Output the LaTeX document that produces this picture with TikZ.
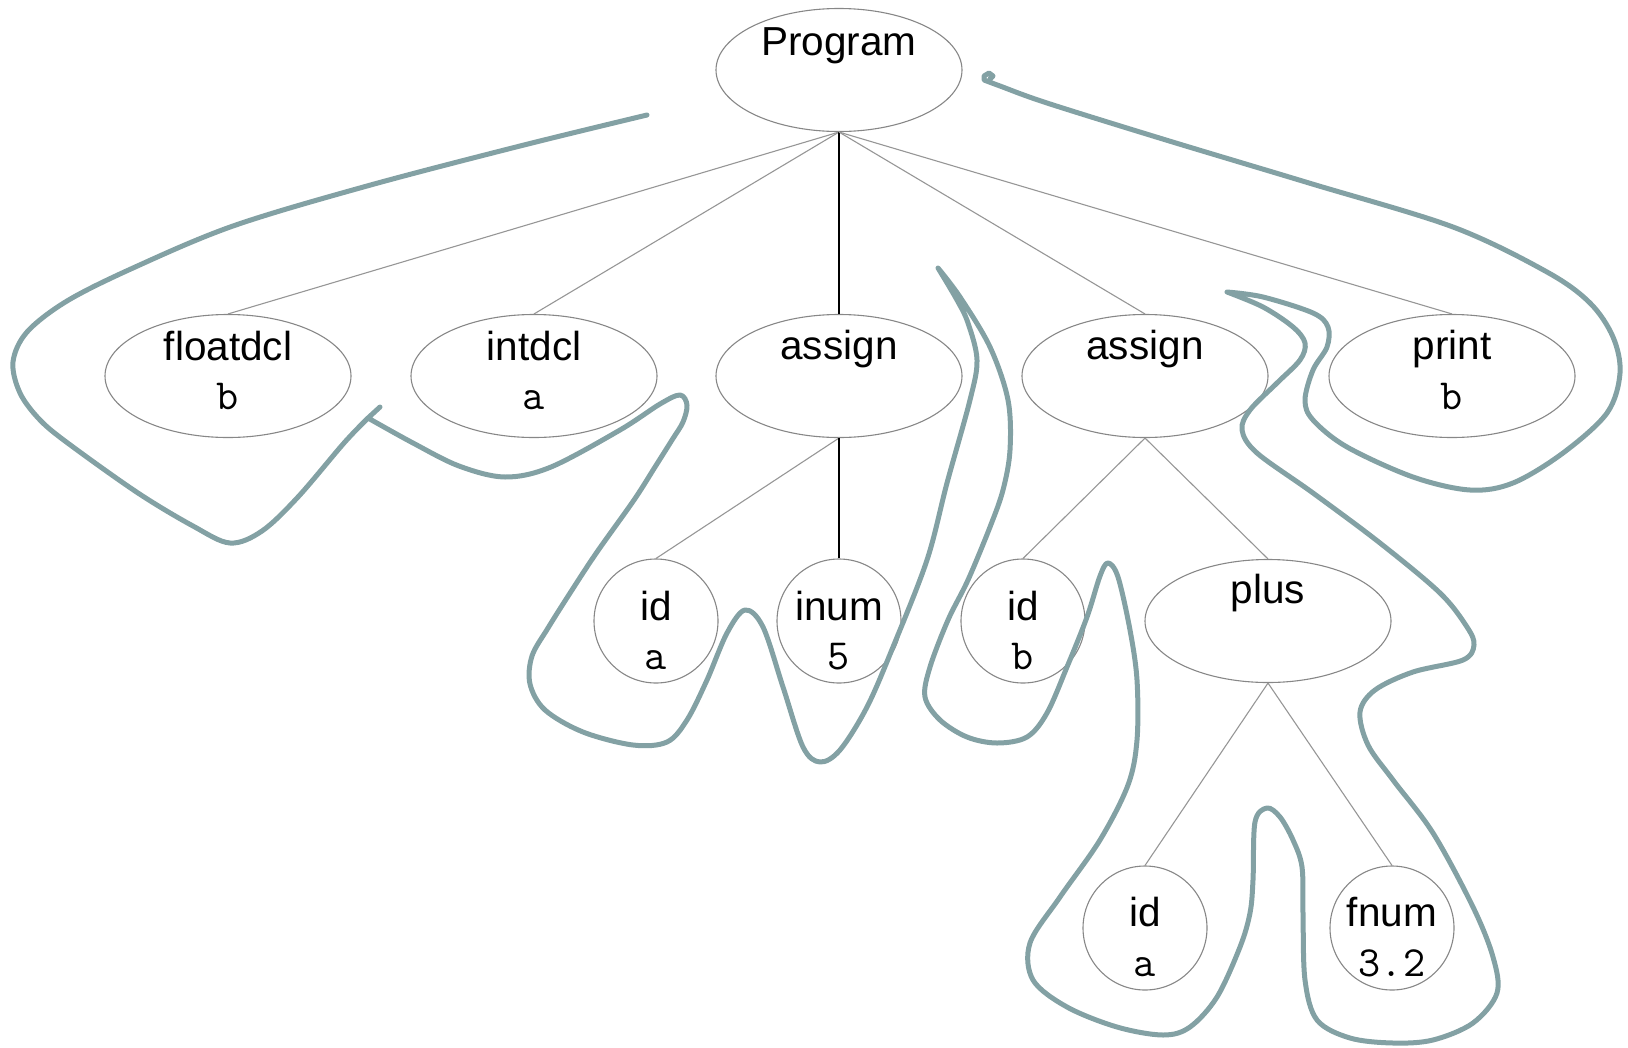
\documentclass[tikz,border=0pt]{standalone}
\usepackage{fontspec}
\setmainfont{Liberation Sans}
\usetikzlibrary{shapes.geometric}
\definecolor{trail}{RGB}{131,161,164}
\definecolor{rim}{RGB}{135,135,135}
\definecolor{twig}{RGB}{150,150,150}

\begin{document}
\begin{tikzpicture}[x=1pt,y=-1pt,
  oval/.style={ellipse, draw=rim, line width=1.1pt, minimum width=246pt, minimum height=123pt, inner sep=0pt},
  disc/.style={circle, draw=rim, line width=1.1pt, minimum size=124pt, inner sep=0pt},
  kind/.style={font=\fontsize{40.5}{48}\selectfont, anchor=base, inner sep=0pt},
  val/.style={font=\ttfamily\fontsize{43}{48}\selectfont, anchor=base, inner sep=0pt},
  edge/.style={draw=twig, line width=1.1pt},
  mainedge/.style={draw=black, line width=1.7pt},
  walk/.style={draw=trail, line width=5pt, line cap=round, line join=round}
]
\useasboundingbox (0,0) rectangle (1628,1047);

% ---- tree nodes ----
\node[oval] (prog) at (839,70) {};
\node[oval] (fdcl) at (228,376) {};
\node[oval] (idcl) at (534,376) {};
\node[oval] (asg1) at (839,376) {};
\node[oval] (asg2) at (1145,376) {};
\node[oval] (prt)  at (1452,376) {};
\node[disc] (ida)  at (656,621) {};
\node[disc] (inum) at (839,621) {};
\node[disc] (idb)  at (1023,621) {};
\node[oval] (plus) at (1268,621) {};
\node[disc] (ida2) at (1145,928) {};
\node[disc] (fnum) at (1392,928) {};

% ---- node texts ----
\node[kind] (progK) at ([yshift=15pt]prog.center) {Program};
\node[kind] (fdclK) at ([yshift=16pt]fdcl.center) {floatdcl};
\node[val]  (fdclV) at ([yshift=-33pt]fdcl.center) {b};
\node[kind] (idclK) at ([yshift=16pt]idcl.center) {intdcl};
\node[val]  (idclV) at ([yshift=-33pt]idcl.center) {a};
\node[kind] (asg1K) at ([yshift=17pt]asg1.center) {assign};
\node[kind] (asg2K) at ([yshift=17pt]asg2.center) {assign};
\node[kind] (prtK)  at ([yshift=17pt]prt.center) {print};
\node[val]  (prtV)  at ([yshift=-33pt]prt.center) {b};
\node[kind] (idaK)  at ([yshift=1pt]ida.center) {id};
\node[val]  (idaV)  at ([yshift=-48pt]ida.center) {a};
\node[kind] (inumK) at ([yshift=1pt]inum.center) {inum};
\node[val]  (inumV) at ([yshift=-48pt]inum.center) {5};
\node[kind] (idbK)  at ([yshift=1pt]idb.center) {id};
\node[val]  (idbV)  at ([yshift=-48pt]idb.center) {b};
\node[kind] (plusK) at ([yshift=18pt]plus.center) {plus};
\node[kind] (ida2K) at ([yshift=2pt]ida2.center) {id};
\node[val]  (ida2V) at ([yshift=-48pt]ida2.center) {a};
\node[kind] (fnumK) at ([yshift=2pt]fnum.center) {fnum};
\node[val]  (fnumV) at ([yshift=-48pt]fnum.center) {3.2};

% ---- tree edges ----
\draw[edge] (prog.south) -- (fdcl.north);
\draw[edge] (prog.south) -- (idcl.north);
\draw[mainedge] (prog.south) -- (asg1.north);
\draw[edge] (prog.south) -- (asg2.north);
\draw[edge] (prog.south) -- (prt.north);
\draw[edge] (asg1.south) -- (ida.north);
\draw[mainedge] (asg1.south) -- (inum.north);
\draw[edge] (asg2.south) -- (idb.north);
\draw[edge] (asg2.south) -- (plus.north);
\draw[edge] (plus.south) -- (ida2.north);
\draw[edge] (plus.south) -- (fnum.north);

% ---- traversal walk around the tree ----
\draw[walk]
  plot[smooth, tension=0.55] coordinates {
    (647,115) (520,146) (367,186) (233,226) (133,268) (67,301) (27,332)
    (13,362) (20,393) (40,420) (69,444) (138,493) (193,526) (230,543)
    (262,531) (298,497) (344,443) (368,418)}
  -- (380,407) -- (368,418)
  -- plot[smooth, tension=0.55] coordinates {
    (368,418) (413,443) (459,466) (505,477) (551,467) (620,430) (660,404)
    (680,395) (687,405) (683,422) (672,440) (655,467) (634,500) (597,552)
    (572,590) (548,628) (532,656) (530,684) (545,710) (583,732) (633,745)
    (667,742) (687,720) (707,680) (727,633) (745,610) (763,627) (783,687)
    (803,747) (820,762) (840,750) (867,707) (893,647) (927,560) (947,483)
    (970,400) (977,360) (968,323) (957,300) (938,268)}
  -- plot[smooth, tension=0.55] coordinates {
    (938,268) (960,297) (990,347) (1008,400) (1010,450) (1003,490) (990,527)
    (968,580) (948,620) (930,667) (925,697) (940,720) (967,737) (997,743)
    (1027,737) (1047,713) (1067,667) (1087,617) (1100,576) (1108,563)
    (1118,577) (1130,630) (1137,680) (1137,740) (1128,785) (1100,840)
    (1060,897) (1030,943) (1033,980) (1067,1007) (1117,1027) (1163,1035)
    (1190,1027) (1217,997) (1240,947) (1250,913) (1253,880) (1255,822)
    (1267,808) (1280,817) (1293,840) (1302,867) (1303,913) (1305,980)
    (1317,1020) (1350,1038) (1393,1043) (1433,1040) (1473,1023) (1497,993)
    (1493,957) (1473,907) (1433,833) (1393,780) (1368,745) (1360,712)
    (1375,690) (1413,672) (1463,660) (1474,645) (1467,627) (1440,593)
    (1380,543) (1313,493) (1257,453) (1242,430) (1250,410) (1277,383)
    (1300,360) (1305,343) (1293,327) (1263,307) (1227,292)}
  -- plot[smooth, tension=0.55] coordinates {
    (1227,292) (1263,297) (1313,313) (1328,327) (1327,347) (1313,370)
    (1305,400) (1313,420) (1347,447) (1413,477) (1470,490) (1513,483)
    (1563,453) (1607,413) (1620,373) (1613,337) (1590,303) (1547,272)
    (1453,227) (1309,183) (1166,140) (1047,103) (1000,86) (984,80)}
  -- (984,76) -- (989,73) -- (993,76) -- (990,79);
\end{tikzpicture}
\end{document}
